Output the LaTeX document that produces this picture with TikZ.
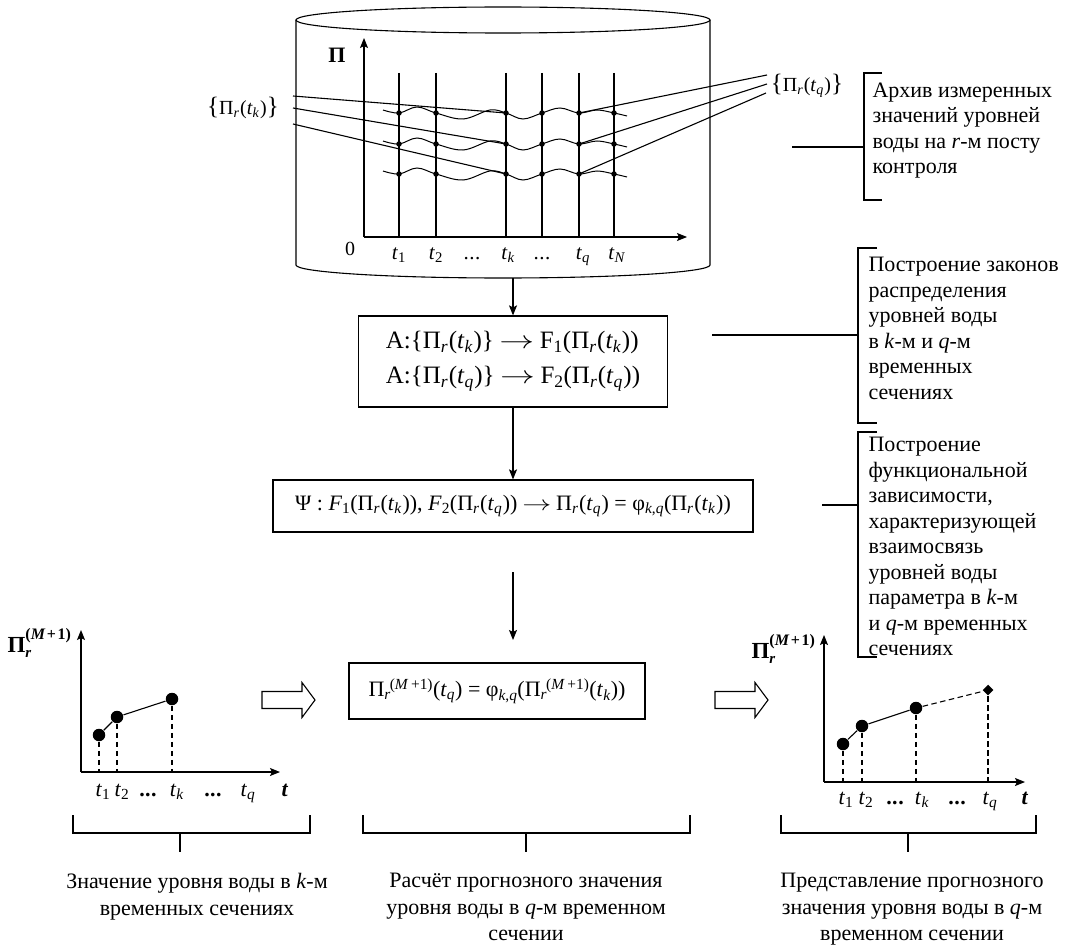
\documentclass[tikz,border=0pt]{standalone}
\usepackage{fontspec}
\usepackage{graphicx}
\setmainfont{Liberation Serif}
\usetikzlibrary{arrows.meta,shapes.geometric}

\newcommand\sbs[1]{\textsubscript{#1}}
\newcommand\sps[1]{\textsuperscript{#1}}
\newcommand\PiRT[1]{Π\sbs{\textit{r}}\kern0.5pt(\textit{t}\sbs{\textit{#1}}\kern0.5pt)}
\newcommand\PiM{Π\sbs{\textit{r}}\kern-0.05em\sps{(\textit{M}\,+1)}}
\newcommand\tdots{.\kern0.5pt.\kern0.5pt.}
\newcommand\bdots{\textbf{.\kern0.5pt.\kern0.5pt.}}
\newcommand\rarr{\hspace{0.22em}\scalebox{1.4}[1]{$\rightarrow$}\hspace{0.22em}}
\newcommand\lbr{{\fontsize{25}{25}\selectfont\{}}
\newcommand\rbr{{\fontsize{25}{25}\selectfont\}}}
\newcommand\axisPi{\fontsize{23}{23}\selectfont\bfseries Π\rlap{\raisebox{-5pt}{\fontsize{15}{15}\selectfont\itshape r}}\raisebox{13pt}{\fontsize{16}{16}\selectfont (\textit{M}\kern1.5pt+\kern1.5pt1)}}

\begin{document}
\begin{tikzpicture}[x=1pt,y=-1pt,line width=1.1pt,
  arr/.style={-{Stealth[length=10pt,width=8pt,inset=2pt]}},
  fbox/.style={draw,line width=1.2pt,inner sep=0pt},
  dot/.style={circle,fill,inner sep=0pt,minimum size=5.5pt},
  bigdot/.style={circle,fill,inner sep=0pt,minimum size=12.5pt},
  drop/.style={line width=1.1pt,dash pattern=on 5.5pt off 3.5pt},
  lbl/.style={inner sep=0pt,font=\fontsize{20}{24}\selectfont},
  tick/.style={inner sep=0pt,anchor=base,font=\fontsize{22}{24}\selectfont},
  note/.style={inner sep=0pt,align=left,anchor=north west,font=\fontsize{22}{25.5}\selectfont},
  caption/.style={inner sep=0pt,align=center,anchor=north,font=\fontsize{22}{26.5}\selectfont},
  hollow/.pic={\draw[fill=white,line width=1.1pt] (0,-8.5) -- (40,-8.5) -- (40,-17.5) -- (53,0) -- (40,17.5) -- (40,8.5) -- (0,8.5) -- cycle;},
  axlbl/.style={inner sep=0pt,anchor=base west}
]
\useasboundingbox (0,0) rectangle (1067,947);

% ---------- archive cylinder ----------
\draw (503,20) ellipse [x radius=207pt, y radius=13pt];
\draw (296,20) -- (296,265) arc[start angle=180, end angle=360, x radius=207pt, y radius=13pt] -- (710,20);
\coordinate (cylbot) at (513,278);

% axes of the level chart
\draw[arr] (364,237) -- (364,38);
\draw[arr] (364,237) -- (687,237);
\node[lbl,font=\fontsize{22}{22}\selectfont\bfseries] (pax) at (337,55) {Π};
\node[lbl,anchor=base] (zero) at (350,255) {0};

% time sections
\foreach \xx in {399,436,506,542,579,614}
  \draw (\xx,73) -- (\xx,237);
\foreach \xx/\lab in {399/\textit{t}\sbs{1},436/\textit{t}\sbs{2},472/\tdots,508/\textit{t}\sbs{\textit{k}},542/\tdots,583/\textit{t}\sbs{\textit{q}},617/\textit{t}\sbs{\textit{N}}}
  \node[lbl,anchor=base,font=\fontsize{21}{24}\selectfont] at (\xx,259) {\lab};

% measured level series
\foreach \yy in {113,144,174}
  \draw[line width=1pt] plot[smooth,tension=0.6] coordinates {
    (383,\yy-3) (399,\yy) (417,\yy-6) (436,\yy) (463,\yy+6) (490,\yy-3) (506,\yy)
    (523,\yy+6) (542,\yy) (560,\yy-5) (579,\yy) (597,\yy-3) (614,\yy) (627,\yy+3)};
\foreach \yy [count=\j] in {113,144,174}
  \foreach \xx [count=\i] in {399,436,506,542,579,614}
    \node[dot] (d\j\i) at (\xx,\yy) {};

% sets of values in the k-th and q-th sections
\node[lbl] (lk) at (243,108) {\lbr\PiRT{k}\rbr};
\coordinate (lk1) at (293,96);
\coordinate (lk2) at (293,108);
\coordinate (lk3) at (293,124);
\draw (lk1) -- (d13.center);
\draw (lk2) -- (d23.center);
\draw (lk3) -- (d33.center);

\node[lbl] (rq) at (807,86) {\lbr\PiRT{q}\rbr};
\coordinate (rq1) at (767,75);
\coordinate (rq2) at (767,84);
\coordinate (rq3) at (766,93);
\draw (d15.center) -- (rq1);
\draw (d25.center) -- (rq2);
\draw (d35.center) -- (rq3);

% ---------- processing chain ----------
\node[fbox,minimum width=309pt,minimum height=91pt,align=left,
      font=\fontsize{25}{35}\selectfont] (box1) at (513,361.5)
  {A:\{\PiRT{k}\}\rarr F\sbs{1}(\PiRT{k})\\A:\{\PiRT{q}\}\rarr F\sbs{2}(\PiRT{q})};
\draw[arr] (cylbot) -- (box1.north);

\node[fbox,minimum width=480pt,minimum height=52pt,font=\fontsize{22}{24}\selectfont] (box2) at (513,506)
  {Ψ : \textit{F}\sbs{1}(\PiRT{k}), \textit{F}\sbs{2}(\PiRT{q})\rarr\PiRT{q} = φ\sbs{\textit{k},\textit{q}}(\PiRT{k})};
\draw[arr] (box1) -- (box2);

\node[fbox,minimum width=296pt,minimum height=56pt,font=\fontsize{22}{24}\selectfont] (box3) at (497,691)
  {\PiM(\textit{t}\sbs{\textit{q}}) = φ\sbs{\textit{k},\textit{q}}(\PiM(\textit{t}\sbs{\textit{k}}))};
\coordinate (a3s) at (513,572);
\coordinate (a3e) at (513,640);
\draw[arr] (a3s) -- (a3e);

\pic at (262,700) {hollow};
\pic at (715,700) {hollow};

% ---------- side notes ----------
\draw (882,73) -- (864,73) -- (864,200) -- (882,200);
\draw (792,147) -- (864,147);
\node[note] (n1) at (872,82)
  {Архив измеренных\\значений уровней\\воды на \textit{r}-м посту\\контроля};

\draw (877,248) -- (858,248) -- (858,423) -- (877,423);
\draw (712,335) -- (858,335);
\node[note] (n2) at (868,257)
  {Построение законов\\распределения\\уровней воды\\в \textit{k}-м и \textit{q}-м\\временных\\сечениях};

\draw (877,432) -- (858,432) -- (858,657) -- (877,657);
\draw (822,505) -- (858,505);
\node[note] (n3) at (868,437)
  {Построение\\функциональной\\зависимости,\\характеризующей\\взаимосвязь\\уровней воды\\параметра в \textit{k}-м\\и \textit{q}-м временных\\сечениях};

% ---------- measured values chart ----------
\coordinate (lo) at (81,772);
\draw[arr] (lo) -- (81,630);
\draw[arr] (lo) -- (280,772);
\node[axlbl] (lpl) at (7,652) {\axisPi};
\node[bigdot] (l1) at (99,735) {};
\node[bigdot] (l2) at (117,717) {};
\node[bigdot] (l3) at (172,699) {};
\draw (l1) -- (l2) -- (l3);
\foreach \p in {l1,l2,l3}
  \draw[drop] (\p) -- (\p |- lo);
\foreach \xx/\lab in {103/\textit{t}\sbs{1},122/\textit{t}\sbs{2},148/\bdots,177/\textit{t}\sbs{\textit{k}},213/\bdots,248/\textit{t}\sbs{\textit{q}},285/\textbf{\textit{t}}}
  \node[tick] at (\xx,796) {\lab};

% ---------- forecast chart ----------
\coordinate (ro) at (824,782);
\draw[arr] (ro) -- (824,635);
\draw[arr] (ro) -- (1025,782);
\node[axlbl] (rpl) at (751,658) {\axisPi};
\node[bigdot] (r1) at (843,744) {};
\node[bigdot] (r2) at (862,726) {};
\node[bigdot] (r3) at (916,708) {};
\node[diamond,fill,inner sep=0pt,minimum size=11pt] (r4) at (988,690) {};
\draw (r1) -- (r2) -- (r3);
\draw[drop] (r3) -- (r4);
\foreach \p in {r1,r2,r3,r4}
  \draw[drop] (\p) -- (\p |- ro);
\foreach \xx/\lab in {846/\textit{t}\sbs{1},866/\textit{t}\sbs{2},895/\bdots,922/\textit{t}\sbs{\textit{k}},957/\bdots,990/\textit{t}\sbs{\textit{q}},1025/\textbf{\textit{t}}}
  \node[tick] at (\xx,804) {\lab};

% ---------- stage brackets and captions ----------
\draw (73,815) -- (73,833) -- (310,833) -- (310,815);
\draw (180,833) -- (180,852);
\draw (363,815) -- (363,833) -- (690,833) -- (690,815);
\draw (526,833) -- (526,852);
\draw (781,815) -- (781,833) -- (1036,833) -- (1036,815);
\draw (908,833) -- (908,852);

\node[caption] (c1) at (197,873) {Значение уровня воды в \textit{k}-м\\временных сечениях};
\node[caption] (c2) at (526,873) {Расчёт прогнозного значения\\уровня воды в \textit{q}-м временном\\сечении};
\node[caption] (c3) at (912,873) {Представление прогнозного\\значения уровня воды в \textit{q}-м\\временном сечении};
\end{tikzpicture}
\end{document}
